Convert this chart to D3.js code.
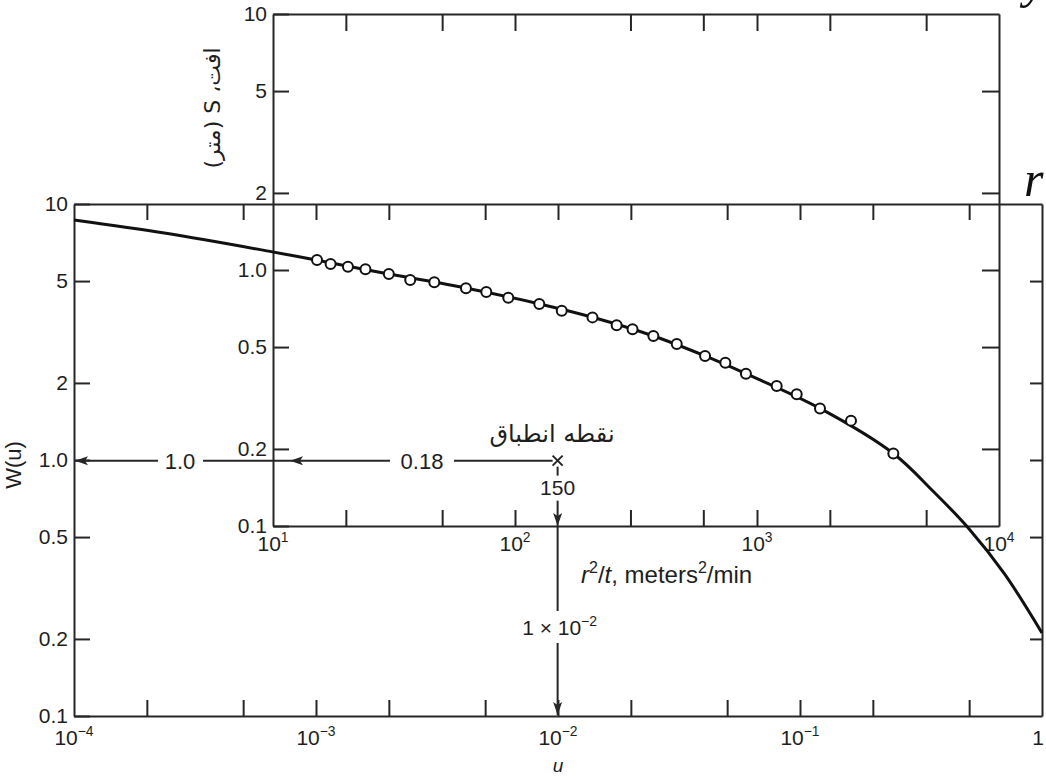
<!DOCTYPE html>
<html>
<head>
<meta charset="utf-8">
<script src="https://cdn.jsdelivr.net/npm/d3@7"></script>
<style>
  body { margin: 0; background: #fff; }
</style>
</head>
<body>
<script>
// type curve, W(u) against u
var uValues = [1e-4, 2.4e-4, 6.6e-4, 1e-3, 2e-3, 4.2e-3, 8.4e-3, 1.39e-2, 2.48e-2, 4.05e-2, 6e-2, 0.121, 0.243, 0.355, 0.494, 0.7, 1];
var wValues = [8.66, 7.68, 6.5, 6.04, 5.33, 4.69, 4.07, 3.61, 3.05, 2.55, 2.17, 1.59, 1.06, 0.755, 0.545, 0.359, 0.211];

// field data: r^2/t (m^2/min) and drawdown s (m)
var r2tValues = [15.2, 17.3, 20.4, 24.1, 30.1, 36.9, 46.4, 62.7, 76.1, 93.8, 126, 156, 209, 263, 306, 373, 466, 610, 740, 900, 1206, 1459, 1821, 2446, 3659];
var sValues = [1.094, 1.055, 1.030, 1.006, 0.965, 0.914, 0.895, 0.848, 0.821, 0.779, 0.737, 0.693, 0.653, 0.608, 0.587, 0.552, 0.514, 0.461, 0.434, 0.393, 0.352, 0.327, 0.288, 0.258, 0.192];

// ticks and labels
var uTicks = [2e-4, 5e-4, 1e-3, 2e-3, 5e-3, 1e-2, 2e-2, 5e-2, 0.1, 0.2, 0.5];
var uLabelValues = [1e-4, 1e-3, 1e-2, 1e-1, 1];
var uLabelExps = ["\u22124", "\u22123", "\u22122", "\u22121", ""];
var yLabelValues = [10, 5, 2, 1, 0.5, 0.2, 0.1];
var yTicks = [0.2, 0.5, 1, 2, 5];
var rTicks = [20, 50, 100, 300, 600, 1000, 2000, 5000];
var rLabelValues = [10, 100, 1000, 10000];
var rLabelExps = ["1", "2", "3", "4"];

// match point
var matchR = 150, matchS = 0.18, matchU = 1e-2, matchW = 1.0;

const width = 1046, height = 778;
const ink = "#262626";
const sans = "Liberation Sans, Arial, sans-serif";

const svg = d3.select("body")
              .append("svg")
              .attr("width", width)
              .attr("height", height)
              .attr("font-family", sans)
              .attr("fill", "#1e1e1e");

// arrow head marker
svg.append("defs").append("marker")
   .attr("id", "head")
   .attr("markerUnits", "userSpaceOnUse")
   .attr("viewBox", "0 -6 14 12")
   .attr("markerWidth", 14)
   .attr("markerHeight", 12)
   .attr("refX", 13)
   .attr("refY", 0)
   .attr("orient", "auto")
   .append("path")
   .attr("d", "M0,-4.5L13,0L0,4.5L3,0Z")
   .attr("fill", ink);

// outer (type curve) scales
var uScale = d3.scaleLog().domain([1e-4, 1]).range([74, 1042]);
var wScale = d3.scaleLog().domain([0.1, 10]).range([716, 204]);

// inner (field data) scales
var rScale = d3.scaleLog().domain([10, 1e4]).range([273, 999]);
var sScale = d3.scaleLog().domain([0.1, 10]).range([526, 14]);

function yFormat(d) {
    return d >= 2 ? String(d) : d.toFixed(1);
}

// draws an axis and styles it
function drawAxis(axis, x, y) {
    var g = svg.append("g")
               .attr("transform", "translate(" + x + "," + y + ")")
               .call(axis);
    g.attr("font-size", 21)
     .attr("font-family", sans);
    g.selectAll("path.domain").attr("stroke", ink).attr("stroke-width", 2);
    g.selectAll(".tick line").attr("stroke", ink).attr("stroke-width", 2);
    g.selectAll(".tick text").attr("fill", "#1e1e1e");
    return g;
}

// outer box
drawAxis(d3.axisBottom(uScale).tickValues(uTicks).tickSizeInner(-16).tickSizeOuter(0).tickFormat(""), 0, wScale(0.1));
drawAxis(d3.axisTop(uScale).tickValues(uTicks).tickSizeInner(-16).tickSizeOuter(0).tickFormat(""), 0, wScale(10));
drawAxis(d3.axisLeft(wScale).tickValues(yLabelValues).tickSizeInner(-16).tickSizeOuter(0).tickPadding(6).tickFormat(yFormat), uScale(1e-4), 0);
drawAxis(d3.axisRight(wScale).tickValues(yTicks).tickSizeInner(-12).tickSizeOuter(0).tickFormat(""), uScale(1), 0);

// inner box
drawAxis(d3.axisBottom(rScale).tickValues(rTicks).tickSizeInner(-16).tickSizeOuter(0).tickFormat(""), 0, sScale(0.1));
drawAxis(d3.axisTop(rScale).tickValues(rTicks).tickSizeInner(-17).tickSizeOuter(0).tickFormat(""), 0, sScale(10));
drawAxis(d3.axisLeft(sScale).tickValues(yLabelValues).tickSizeInner(-16).tickSizeOuter(0).tickPadding(6).tickFormat(yFormat), rScale(10), 0);
drawAxis(d3.axisRight(sScale).tickValues(yTicks).tickSizeInner(-17).tickSizeOuter(0).tickFormat(""), rScale(1e4), 0);

// power-of-ten labels
function powerLabel(x, y, base, exp, size) {
    var t = svg.append("text")
               .attr("x", x)
               .attr("y", y)
               .attr("text-anchor", "middle")
               .attr("font-size", size);
    t.append("tspan").text(base);
    if (exp) {
        t.append("tspan").attr("dy", -9).attr("font-size", size * 0.66).text(exp);
    }
}

uLabelValues.forEach(function(v, i) {
    powerLabel(uScale(v) + (i == 4 ? -4 : 0), 745, i == 4 ? "1" : "10", uLabelExps[i], 21);
});
rLabelValues.forEach(function(v, i) {
    powerLabel(rScale(v), 551, "10", rLabelExps[i], 21);
});

// axis titles
svg.append("text")
   .attr("x", uScale(1e-2))
   .attr("y", 772)
   .attr("text-anchor", "middle")
   .attr("font-size", 19)
   .attr("font-style", "italic")
   .text("u");

svg.append("text")
   .attr("transform", "translate(21,465) rotate(-90)")
   .attr("text-anchor", "middle")
   .attr("font-size", 22)
   .text("W(u)");

var xTitle = svg.append("text")
                .attr("x", 581)
                .attr("y", 583)
                .attr("font-size", 24);
xTitle.append("tspan").attr("font-style", "italic").text("r");
xTitle.append("tspan").attr("dy", -10).attr("font-size", 16).text("2");
xTitle.append("tspan").attr("dy", 10).text("/");
xTitle.append("tspan").attr("font-style", "italic").text("t");
xTitle.append("tspan").text(", meters");
xTitle.append("tspan").attr("dy", -10).attr("font-size", 16).text("2");
xTitle.append("tspan").attr("dy", 10).text("/min");

svg.append("text")
   .attr("transform", "translate(220,108) rotate(-90)")
   .attr("text-anchor", "middle")
   .attr("direction", "rtl")
   .attr("font-size", 22)
   .attr("font-family", "DejaVu Sans, sans-serif")
   .text("افت، S (متر)");

// type curve
var curve = d3.line()
              .x(function(d, i) { return uScale(uValues[i]); })
              .y(function(d, i) { return wScale(wValues[i]); })
              .curve(d3.curveCatmullRom.alpha(0.5));

svg.append("path")
   .datum(uValues)
   .attr("d", curve)
   .attr("fill", "none")
   .attr("stroke", "#111")
   .attr("stroke-width", 3);

// field data points
svg.selectAll(".obs")
   .data(r2tValues)
   .enter()
   .append("circle")
   .attr("class", "obs")
   .attr("cx", function(d) { return rScale(d); })
   .attr("cy", function(d, i) { return sScale(sValues[i]); })
   .attr("r", 5)
   .attr("fill", "#fff")
   .attr("stroke", "#111")
   .attr("stroke-width", 2);

// match point construction
var mx = rScale(matchR), my = sScale(matchS);
var innerLeft = rScale(10), outerLeft = uScale(1e-4);
var innerBottom = sScale(0.1), outerBottom = wScale(0.1);

function segment(x1, y1, x2, y2, arrow) {
    var l = svg.append("line")
               .attr("x1", x1).attr("y1", y1)
               .attr("x2", x2).attr("y2", y2)
               .attr("stroke", ink)
               .attr("stroke-width", 2);
    if (arrow) l.attr("marker-end", "url(#head)");
}

// horizontal: 0.18 on s axis, 1.0 on W(u) axis
segment(mx - 5, my, 454, my, false);
segment(390, my, innerLeft + 17, my, true);
segment(innerLeft + 17, my, 203, my, false);
segment(158, my, outerLeft + 1, my, true);

// vertical: 150 on r2/t axis, 1e-2 on u axis
segment(mx, my + 6, mx, my + 15, false);
segment(mx, my + 40, mx, innerBottom, true);
segment(mx, innerBottom, mx, 611, false);
segment(mx, 643, mx, outerBottom - 1, true);

// match point cross
svg.append("path")
   .attr("d", "M" + (mx - 5) + "," + (my - 5) + "L" + (mx + 5) + "," + (my + 5) +
              "M" + (mx - 5) + "," + (my + 5) + "L" + (mx + 5) + "," + (my - 5))
   .attr("stroke", ink)
   .attr("stroke-width", 2);

svg.append("text")
   .attr("x", 422).attr("y", my + 8)
   .attr("text-anchor", "middle")
   .attr("font-size", 22)
   .text(matchS);

svg.append("text")
   .attr("x", 180).attr("y", my + 8)
   .attr("text-anchor", "middle")
   .attr("font-size", 22)
   .text(matchW.toFixed(1));

svg.append("text")
   .attr("x", mx).attr("y", my + 34)
   .attr("text-anchor", "middle")
   .attr("font-size", 21)
   .text(matchR);

var uText = svg.append("text")
               .attr("x", mx + 2).attr("y", 635)
               .attr("text-anchor", "middle")
               .attr("font-size", 21);
uText.append("tspan").text("1 \u00d7 10");
uText.append("tspan").attr("dy", -9).attr("font-size", 14).text("\u22122");

svg.append("text")
   .attr("x", 552).attr("y", 442)
   .attr("text-anchor", "middle")
   .attr("direction", "rtl")
   .attr("font-size", 24)
   .attr("font-family", "DejaVu Sans, sans-serif")
   .text("نقطه انطباق");

// stray letters from the page at the right edge
svg.append("text")
   .attr("x", 1024).attr("y", 196)
   .attr("font-size", 50)
   .attr("font-style", "italic")
   .attr("font-family", "Liberation Serif, DejaVu Serif, serif")
   .attr("fill", "#111")
   .text("r");

svg.append("text")
   .attr("x", 1024).attr("y", -3)
   .attr("font-size", 50)
   .attr("font-style", "italic")
   .attr("font-family", "Liberation Serif, DejaVu Serif, serif")
   .attr("fill", "#111")
   .text("y");
</script>
</body>
</html>
